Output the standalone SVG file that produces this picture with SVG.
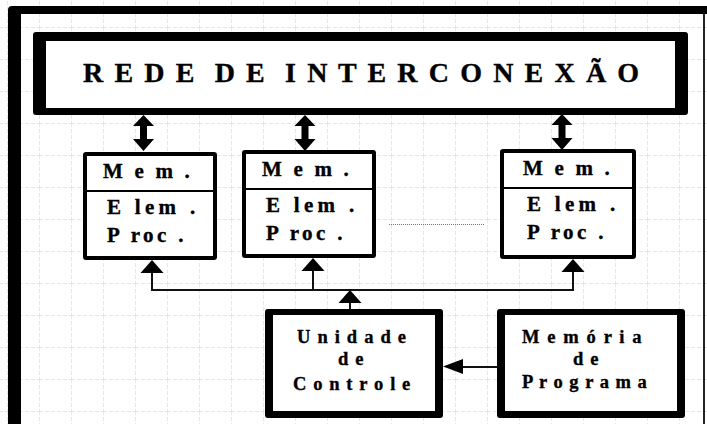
<svg xmlns="http://www.w3.org/2000/svg" width="707" height="424" viewBox="0 0 707 424">
<style>
.t{font-family:"Liberation Serif","Times New Roman",serif;font-weight:bold;fill:#000;stroke:#000;stroke-width:0.35}
.m{font-size:21px}
.c{font-size:18.5px}
.bus{fill:none;stroke:#111;stroke-width:2}
.head{fill:#000}
.box{fill:#fff;stroke:#000;stroke-width:4}
.div{stroke:#000;stroke-width:2}
</style>
<defs>
<pattern id="grid" x="7" y="27" width="32" height="32" patternUnits="userSpaceOnUse">
<path d="M0,0.5 H32 M0.5,0 V32" fill="none" stroke="#e4e4f2" stroke-width="1" stroke-dasharray="4 2"/>
</pattern>
<path id="dbl" d="M-10.5,11 L0,0 L10.5,11 L3.5,11 L3.5,24 L10.5,24 L0,36 L-10.5,24 L-3.5,24 L-3.5,11 Z"/>
<path id="up" d="M0,0 L11.5,13 L-11.5,13 Z"/>
</defs>
<rect width="707" height="424" fill="#fff"/>
<rect width="707" height="424" fill="url(#grid)"/>

<g id="frame">
<path d="M8,424 V10 Q8,6 12,6 H707 V14 H21 V424 Z" fill="#000"/>
<line x1="704" y1="14" x2="704" y2="424" stroke="#222" stroke-width="2"/>
</g>

<g id="rede">
<rect x="33" y="32" width="655" height="83" rx="3" fill="#000"/>
<rect x="46" y="41" width="629" height="67" fill="#fff"/>
<text class="t" x="83" y="82" font-size="28" xml:space="preserve" letter-spacing="2.1">R E D E  D E  I N T E R C O N E X Ã O</text>
</g>

<g id="pe1">
<rect class="box" x="85" y="154" width="130" height="104" rx="1"/>
<line class="div" x1="85" y1="191" x2="215" y2="191"/>
<text class="t m" x="103" y="178" letter-spacing="3.2">M e m .</text>
<text class="t m" x="107" y="214" letter-spacing="4.3">E lem .</text>
<text class="t m" x="107" y="242" letter-spacing="3.4">P roc .</text>
</g>

<g id="pe2">
<rect class="box" x="244" y="152" width="130" height="104" rx="1"/>
<line class="div" x1="244" y1="189" x2="374" y2="189"/>
<text class="t m" x="262" y="176" letter-spacing="3.2">M e m .</text>
<text class="t m" x="266" y="212" letter-spacing="4.3">E lem .</text>
<text class="t m" x="266" y="240" letter-spacing="3.4">P roc .</text>
</g>

<g id="pe3">
<rect class="box" x="502" y="151" width="132" height="106" rx="1"/>
<line class="div" x1="502" y1="188" x2="634" y2="188"/>
<text class="t m" x="523" y="175" letter-spacing="3.2">M e m .</text>
<text class="t m" x="527" y="211" letter-spacing="4.3">E lem .</text>
<text class="t m" x="527" y="239" letter-spacing="3.4">P roc .</text>
</g>

<g id="uc">
<rect x="265" y="309" width="178" height="109" rx="3" fill="#000"/>
<rect x="273" y="315" width="162" height="96" fill="#fff"/>
<text class="t c" x="297" y="343" letter-spacing="1.2">U n i d a d e</text>
<text class="t c" x="338" y="365" letter-spacing="1.2">d e</text>
<text class="t c" x="293" y="390" letter-spacing="1.1">C o n t r o l e</text>
</g>

<g id="mp">
<rect x="497" y="309" width="188" height="109" rx="3" fill="#000"/>
<rect x="505" y="315" width="172" height="96" fill="#fff"/>
<text class="t c" x="522" y="343" letter-spacing="1.6">M e m ó r i a</text>
<text class="t c" x="573" y="365" letter-spacing="1.2">d e</text>
<text class="t c" x="522" y="388" letter-spacing="1">P r o g r a m a</text>
</g>

<g id="connectors">
<use href="#dbl" x="143.5" y="115"/>
<use href="#dbl" x="305" y="115"/>
<use href="#dbl" x="562" y="114"/>
<path class="bus" d="M152,271 V290 H573 V270 M313,290 V269"/>
<use class="head" href="#up" x="152" y="260"/>
<use class="head" href="#up" x="313" y="258"/>
<use class="head" href="#up" x="573" y="259"/>
<path class="bus" d="M350,310 V303"/>
<use class="head" href="#up" x="350" y="290"/>
<path class="bus" d="M497,367 H460"/>
<path class="head" d="M443,366.5 L463,359 L463,374 Z"/>
<line x1="389" y1="224.5" x2="484" y2="224.5" stroke="#777" stroke-width="1" stroke-dasharray="1 1"/>
</g>
</svg>
